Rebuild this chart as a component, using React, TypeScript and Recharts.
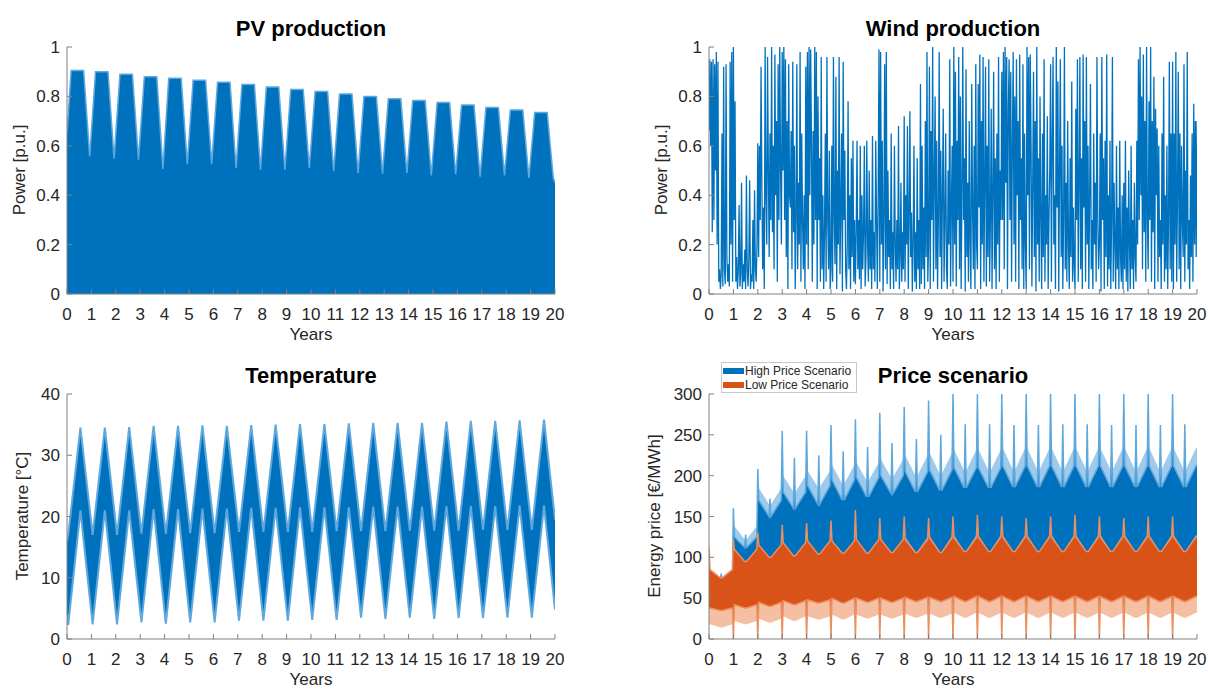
import { ComposedChart, Area, LineChart, Line, XAxis, YAxis } from "recharts";

const FONT = '"Liberation Sans", Arial, Helvetica, sans-serif';
const BLUE = "#0072BD";
const BLUE_LIGHT = "#5EA8DE";
const BLUE_FRINGE = "#9ECAEB";
const ORANGE = "#D95319";
const ORANGE_LIGHT = "#EA8F62";
const ORANGE_FRINGE = "#F5BFA3";
const AXIS = "#808080";
const TEXT = "#262626";

const yearTicks = [0, 1, 2, 3, 4, 5, 6, 7, 8, 9, 10, 11, 12, 13, 14, 15, 16, 17, 18, 19, 20];
const puTicks = [0, 0.2, 0.4, 0.6, 0.8, 1];
const tempTicks = [0, 10, 20, 30, 40];
const priceTicks = [0, 50, 100, 150, 200, 250, 300];

// PV production: envelope of the daily peaks, one plateau and one trough per year
const pvStart = 0.65;
const pvPeak = [0.905, 0.9, 0.89, 0.88, 0.873, 0.865, 0.857, 0.848, 0.838, 0.828, 0.82, 0.81, 0.8, 0.79, 0.783, 0.775, 0.765, 0.755, 0.745, 0.735];
const pvTrough = [0.557, 0.548, 0.544, 0.506, 0.526, 0.526, 0.51, 0.503, 0.503, 0.51, 0.497, 0.49, 0.487, 0.49, 0.48, 0.485, 0.475, 0.48, 0.47, 0.47];
const pvEnd = 0.45;

// Wind production, 30 readings per year
const windPower = [
  0.66, 0.95, 0.6, 0.94, 0.25, 0.95, 0.3, 0.93, 0.5, 0.98, 0.2, 0.94, 0.05, 0.1, 0.02, 0.08, 0.65, 0.03, 0.92, 0.1, 0.04, 0.93, 0.15, 0.05, 0.12, 0.03, 0.94, 0.2, 0.98, 0.05,
  1.0, 0.3, 0.78, 0.05, 0.15, 0.02, 0.1, 0.36, 0.03, 0.08, 0.45, 0.02, 0.12, 0.05, 0.18, 0.02, 0.48, 0.1, 0.03, 0.15, 0.46, 0.02, 0.08, 0.05, 0.3, 0.02, 0.42, 0.1, 0.05, 0.2,
  0.61, 0.15, 0.6, 0.3, 0.92, 0.45, 0.1, 0.35, 0.02, 1.0, 0.4, 0.2, 0.96, 0.5, 0.15, 0.65, 0.3, 1.0, 0.25, 0.6, 0.1, 0.97, 0.4, 0.7, 0.05, 0.93, 0.3, 1.0, 0.5, 0.2,
  0.98, 0.5, 1.0, 0.3, 0.95, 0.15, 0.7, 0.02, 0.93, 0.4, 0.35, 0.66, 0.1, 0.94, 0.25, 0.6, 0.02, 0.3, 0.93, 0.1, 0.45, 0.2, 0.98, 0.05, 0.65, 0.3, 0.1, 0.4, 0.02, 0.92,
  0.2, 0.98, 0.1, 1.0, 0.4, 0.99, 0.6, 0.05, 0.66, 0.2, 1.0, 0.3, 0.98, 0.02, 0.8, 0.3, 0.55, 0.05, 0.96, 0.1, 0.4, 0.02, 0.25, 0.65, 0.05, 0.96, 0.3, 0.1, 0.58, 0.02,
  0.1, 0.6, 0.05, 0.96, 0.3, 0.12, 0.88, 0.02, 0.5, 0.2, 0.96, 0.08, 0.35, 0.65, 0.01, 0.94, 0.3, 0.58, 0.1, 0.02, 0.2, 0.78, 0.1, 0.4, 0.02, 0.55, 0.15, 0.62, 0.05, 0.3,
  0.04, 0.25, 0.62, 0.1, 0.3, 0.06, 0.6, 0.02, 0.4, 0.1, 0.25, 0.6, 0.03, 0.15, 0.62, 0.2, 0.05, 0.5, 0.1, 0.3, 0.02, 0.64, 0.1, 0.25, 0.05, 0.62, 0.3, 0.02, 0.4, 0.99,
  0.05, 0.98, 0.2, 0.62, 0.01, 0.3, 0.93, 0.1, 0.98, 0.04, 0.5, 0.15, 0.3, 0.02, 0.65, 0.1, 0.25, 0.02, 0.6, 0.2, 0.05, 0.3, 0.1, 0.68, 0.02, 0.15, 0.45, 0.05, 0.25, 0.1,
  0.72, 0.05, 0.4, 0.2, 0.68, 0.02, 0.3, 0.74, 0.15, 0.33, 0.01, 0.2, 0.6, 0.05, 0.25, 0.02, 0.55, 0.1, 0.3, 0.02, 0.85, 0.04, 0.6, 0.1, 0.35, 0.02, 0.7, 0.15, 0.98, 0.05,
  0.2, 0.92, 0.02, 0.66, 0.3, 1.0, 0.05, 0.45, 0.8, 0.1, 0.62, 0.02, 0.3, 0.98, 0.15, 0.58, 0.02, 0.4, 0.75, 0.05, 0.3, 0.65, 0.1, 0.02, 0.5, 0.2, 0.95, 0.03, 0.35, 0.6,
  0.05, 1.0, 0.2, 0.9, 0.03, 0.62, 0.3, 0.96, 0.1, 0.8, 0.02, 0.4, 1.0, 0.3, 0.55, 0.01, 0.91, 0.15, 0.45, 0.05, 0.7, 0.2, 0.02, 0.85, 0.35, 0.1, 0.6, 0.02, 0.93, 0.2,
  0.1, 0.85, 0.35, 0.97, 0.02, 0.7, 0.2, 0.96, 0.05, 0.45, 0.92, 0.03, 0.6, 0.15, 0.95, 0.05, 0.3, 0.75, 0.02, 0.4, 0.9, 0.1, 0.55, 0.02, 0.65, 0.2, 0.96, 0.05, 0.5, 0.3,
  0.9, 0.3, 0.98, 0.1, 1.0, 0.45, 0.96, 0.02, 0.75, 0.95, 0.3, 0.9, 0.05, 0.6, 0.98, 0.2, 0.8, 0.05, 0.95, 0.4, 0.7, 0.02, 0.97, 0.3, 0.55, 0.1, 0.93, 0.02, 0.65, 0.2,
  0.02, 1.0, 0.4, 0.96, 0.1, 0.97, 0.6, 0.03, 0.45, 0.9, 0.15, 0.7, 0.01, 1.0, 0.2, 0.55, 0.05, 0.8, 0.3, 0.02, 0.65, 0.15, 0.95, 0.05, 0.4, 0.2, 0.72, 0.02, 0.3, 0.5,
  0.93, 0.05, 0.6, 0.96, 0.2, 0.4, 0.02, 1.0, 0.35, 0.86, 0.01, 0.5, 0.95, 0.15, 0.6, 0.02, 0.3, 1.0, 0.1, 0.45, 0.05, 0.7, 0.2, 0.02, 0.55, 0.15, 0.86, 0.05, 0.35, 0.1,
  0.02, 0.75, 0.3, 0.95, 0.05, 0.45, 0.96, 0.1, 0.55, 0.02, 0.97, 0.35, 0.7, 0.05, 0.96, 0.2, 0.6, 0.02, 0.4, 0.85, 0.1, 0.3, 0.02, 0.65, 0.2, 0.45, 0.05, 0.96, 0.3, 0.1,
  0.2, 0.65, 0.01, 0.96, 0.3, 0.55, 0.02, 0.62, 0.15, 0.97, 0.03, 0.4, 0.1, 0.62, 0.02, 0.3, 0.96, 0.05, 0.45, 0.2, 0.02, 0.6, 0.1, 0.35, 0.02, 0.62, 0.15, 0.05, 0.4, 0.02,
  0.45, 0.1, 0.62, 0.05, 0.35, 0.01, 0.5, 0.2, 0.02, 0.6, 0.1, 0.3, 0.02, 0.45, 0.15, 0.05, 0.62, 0.2, 0.95, 0.3, 1.0, 0.4, 0.8, 0.1, 0.97, 0.25, 0.7, 0.05, 1.0, 0.3,
  0.1, 0.78, 0.3, 1.0, 0.05, 0.7, 0.25, 0.88, 0.02, 0.75, 0.4, 0.67, 0.05, 0.6, 0.15, 0.3, 0.02, 0.65, 0.2, 0.88, 0.05, 0.4, 0.1, 0.6, 0.02, 0.3, 0.94, 0.1, 0.65, 0.05,
  0.94, 0.02, 0.65, 0.2, 0.98, 0.05, 0.4, 0.9, 0.1, 0.65, 0.02, 0.6, 0.3, 0.15, 0.93, 0.05, 0.5, 0.2, 0.98, 0.1, 0.3, 0.02, 0.48, 0.15, 0.65, 0.05, 0.77, 0.2, 0.7, 0.15,
  0.7,
];

// Temperature band: winter trough (start of year) and summer peak (mid-year)
const tempStart = [4, 16];
const tempTroughLow = [2.3, 2.4, 2.4, 2.7, 2.5, 2.7, 2.7, 3.0, 3.0, 3.0, 3.1, 3.1, 3.5, 3.3, 3.5, 3.3, 3.4, 3.4, 3.5, 3.5];
const tempTroughHigh = [17, 17, 17, 17.2, 17.2, 17.3, 17.3, 17.5, 17.5, 17.5, 17.5, 17.6, 17.6, 17.6, 17.7, 17.7, 17.7, 17.8, 17.8, 17.8];
const tempPeakLow = [21, 21, 21, 21.2, 21.2, 21.3, 21.3, 21.4, 21.4, 21.5, 21.5, 21.5, 21.6, 21.6, 21.6, 21.7, 21.7, 21.7, 21.8, 21.8];
const tempPeakHigh = [34.5, 34.5, 34.6, 34.8, 34.8, 34.9, 34.8, 34.9, 35.0, 35.1, 35.1, 35.2, 35.3, 35.3, 35.3, 35.5, 35.6, 35.6, 35.7, 35.8];
const tempEnd = [4.8, 19.5];

// Price scenarios, per year (edge = around new year, mid = mid-year)
const highSpike = [100, 160, 208, 255, 255, 262, 269, 277, 284, 292, 300, 300, 300, 300, 300, 300, 300, 300, 300, 300];
const highMidSpike = [80, 128, 172, 222, 225, 230, 235, 240, 245, 250, 263, 263, 262, 262, 263, 263, 262, 262, 262, 263];
const highTopEdge = [75, 125, 170, 180, 188, 195, 198, 200, 205, 207, 210, 210, 212, 212, 212, 212, 212, 212, 212, 212];
const highTopMid = [72, 112, 150, 160, 165, 170, 174, 178, 180, 182, 185, 185, 186, 186, 186, 186, 186, 186, 186, 186];
const highBottomEdge = [40, 85, 100, 110, 115, 118, 120, 122, 124, 125, 126, 126, 126, 126, 126, 126, 126, 126, 126, 126];
const highBottomMid = [40, 75, 90, 98, 100, 102, 103, 104, 105, 105, 106, 106, 106, 106, 106, 106, 106, 106, 106, 106];
const highCeilEdge = [78, 138, 185, 200, 206, 213, 216, 220, 225, 228, 232, 232, 234, 234, 234, 234, 234, 234, 234, 234];
const highCeilMid = [74, 122, 165, 180, 186, 190, 194, 198, 200, 202, 206, 206, 207, 207, 207, 207, 207, 207, 207, 207];

const lowSpikeDown = [38, 0, 0, 0, 0, 0, 0, 0, 0, 0, 0, 0, 0, 0, 0, 0, 0, 0, 0, 0];
const lowSpikeUp = [113, 122, 130, 140, 142, 145, 158, 148, 150, 148, 150, 152, 150, 148, 150, 152, 150, 148, 150, 150];
const lowTopEdge = [85, 110, 115, 118, 120, 120, 122, 122, 122, 124, 124, 125, 125, 125, 125, 125, 125, 125, 125, 125];
const lowTopMid = [75, 95, 100, 102, 104, 105, 105, 106, 106, 106, 107, 107, 107, 107, 107, 107, 107, 107, 107, 107];
const lowBottomEdge = [38, 42, 45, 47, 48, 50, 50, 50, 51, 51, 52, 52, 52, 52, 52, 52, 52, 52, 52, 52];
const lowBottomMid = [35, 38, 40, 42, 44, 44, 45, 45, 46, 46, 46, 46, 46, 46, 46, 46, 46, 46, 46, 46];
const lowFloorEdge = [18, 22, 25, 28, 28, 30, 30, 30, 31, 31, 32, 32, 32, 32, 32, 32, 32, 32, 32, 32];
const lowFloorMid = [14, 18, 20, 22, 24, 24, 25, 25, 26, 26, 26, 26, 26, 26, 26, 26, 26, 26, 26, 26];

const pvData: { x: number; p: number }[] = [{ x: 0, p: pvStart }];
pvPeak.forEach((peak, i) => {
  pvData.push({ x: i + 0.17, p: peak });
  pvData.push({ x: i + 0.68, p: peak });
  pvData.push({ x: i + 0.93, p: pvTrough[i] });
});
pvData.push({ x: 20, p: pvEnd });

const windData = windPower.map((p, i) => ({ x: i / 30, p }));

const tempData: { x: number; t: number[] }[] = [{ x: 0, t: tempStart }];
tempPeakHigh.forEach((_, i) => {
  tempData.push({ x: i + 0.05, t: [tempTroughLow[i], tempTroughHigh[i]] });
  tempData.push({ x: i + 0.55, t: [tempPeakLow[i], tempPeakHigh[i]] });
});
tempData.push({ x: 20, t: tempEnd });

type PricePoint = { x: number; hi: number[]; hiF: number[]; lo: number[]; loF: number[] };
const edgePoint = (i: number, x: number, hiTop: number, loBottom: number, loTop: number): PricePoint => ({
  x,
  hi: [highBottomEdge[i], hiTop],
  hiF: [highTopEdge[i], highCeilEdge[i]],
  lo: [loBottom, loTop],
  loF: [lowFloorEdge[i], lowBottomEdge[i]],
});
const midPoint = (i: number, x: number, hiTop: number): PricePoint => ({
  x,
  hi: [highBottomMid[i], hiTop],
  hiF: [highTopMid[i], highCeilMid[i]],
  lo: [lowBottomMid[i], lowTopMid[i]],
  loF: [lowFloorMid[i], lowBottomMid[i]],
});
const priceData: PricePoint[] = [];
highSpike.forEach((_, i) => {
  priceData.push(edgePoint(i, i, highSpike[i], lowSpikeDown[i], lowSpikeUp[i]));
  priceData.push(edgePoint(i, i + 0.04, highTopEdge[i], lowBottomEdge[i], lowTopEdge[i]));
  priceData.push(midPoint(i, i + 0.46, highTopMid[i]));
  priceData.push(midPoint(i, i + 0.5, highMidSpike[i]));
  priceData.push(midPoint(i, i + 0.54, highTopMid[i]));
  priceData.push(edgePoint(i, i + 0.96, highTopEdge[i], lowBottomEdge[i], lowTopEdge[i]));
});
priceData.push(edgePoint(19, 20, highTopEdge[19], lowBottomEdge[19], lowTopEdge[19]));

const tickStyle = { fill: TEXT, fontSize: 17, fontFamily: FONT };

const xAxis = (
  <XAxis
    dataKey="x"
    type="number"
    domain={[0, 20]}
    ticks={yearTicks}
    interval={0}
    allowDataOverflow
    height={30}
    tickSize={-5}
    tickMargin={19}
    axisLine={{ stroke: AXIS }}
    tickLine={{ stroke: AXIS }}
    tick={tickStyle}
  />
);

const yAxis = (domain: number[], ticks: number[]) => (
  <YAxis
    type="number"
    domain={domain}
    ticks={ticks}
    interval={0}
    allowDataOverflow
    width={50}
    tickSize={-5}
    tickMargin={12}
    axisLine={{ stroke: AXIS }}
    tickLine={{ stroke: AXIS }}
    tick={tickStyle}
  />
);

const Title = ({ x, y, text }: { x: number; y: number; text: string }) => (
  <div
    style={{
      position: "absolute", left: x, top: y, transform: "translate(-50%, -50%)",
      fontSize: 22, fontWeight: "bold", color: "#000", whiteSpace: "nowrap",
    }}
  >
    {text}
  </div>
);

const Label = ({ x, y, text, rotate }: { x: number; y: number; text: string; rotate?: boolean }) => (
  <div
    style={{
      position: "absolute", left: x, top: y,
      transform: `translate(-50%, -50%)${rotate ? " rotate(-90deg)" : ""}`,
      fontSize: 17, color: TEXT, whiteSpace: "nowrap",
    }}
  >
    {text}
  </div>
);

const LegendRow = ({ top, color, text }: { top: number; color: string; text: string }) => (
  <div style={{ position: "absolute", left: 1, top, display: "flex", alignItems: "center", height: 14, whiteSpace: "nowrap" }}>
    <div style={{ width: 21, height: 6, background: color, flexShrink: 0 }} />
    <span style={{ marginLeft: 1, fontSize: 12, color: TEXT, lineHeight: "14px" }}>{text}</span>
  </div>
);

const App = () => {
  return (
    <div style={{ position: "absolute", left: 0, top: 0, width: 1208, height: 689, background: "#fff", fontFamily: FONT }}>
      <div style={{ position: "absolute", left: 0, top: 0 }}>
        <ComposedChart width={600} height={340} data={pvData} margin={{ top: 47, right: 45, bottom: 16, left: 17 }}>
          {xAxis}
          {yAxis([0, 1], puTicks)}
          <Area dataKey="p" type="linear" fill={BLUE} fillOpacity={1} stroke={BLUE_LIGHT} strokeWidth={1.5} isAnimationActive={false} />
        </ComposedChart>
      </div>

      <div style={{ position: "absolute", left: 600, top: 0 }}>
        <LineChart width={608} height={340} data={windData} margin={{ top: 47, right: 11, bottom: 16, left: 59 }}>
          {xAxis}
          {yAxis([0, 1], puTicks)}
          <Line dataKey="p" type="linear" stroke={BLUE} strokeWidth={1.3} dot={false} isAnimationActive={false} />
        </LineChart>
      </div>

      <div style={{ position: "absolute", left: 0, top: 345 }}>
        <ComposedChart width={600} height={344} data={tempData} margin={{ top: 49, right: 45, bottom: 20, left: 17 }}>
          {xAxis}
          {yAxis([0, 40], tempTicks)}
          <Area dataKey="t" type="linear" fill={BLUE} fillOpacity={1} stroke={BLUE_LIGHT} strokeWidth={2} isAnimationActive={false} />
        </ComposedChart>
      </div>

      <div style={{ position: "absolute", left: 600, top: 345 }}>
        <ComposedChart width={608} height={344} data={priceData} margin={{ top: 49, right: 11, bottom: 20, left: 59 }}>
          {xAxis}
          {yAxis([0, 300], priceTicks)}
          <Area dataKey="hiF" type="linear" fill={BLUE_FRINGE} fillOpacity={1} stroke="none" isAnimationActive={false} />
          <Area dataKey="hi" type="linear" fill={BLUE} fillOpacity={1} stroke={BLUE_LIGHT} strokeWidth={1.5} isAnimationActive={false} />
          <Area dataKey="loF" type="linear" fill={ORANGE_FRINGE} fillOpacity={1} stroke="none" isAnimationActive={false} />
          <Area dataKey="lo" type="linear" fill={ORANGE} fillOpacity={1} stroke={ORANGE_LIGHT} strokeWidth={1.5} isAnimationActive={false} />
        </ComposedChart>
      </div>

      <Title x={311} y={29} text="PV production" />
      <Title x={953} y={29} text="Wind production" />
      <Title x={311} y={376} text="Temperature" />
      <Title x={953} y={376} text="Price scenario" />

      <Label x={311} y={335} text="Years" />
      <Label x={953} y={335} text="Years" />
      <Label x={311} y={680} text="Years" />
      <Label x={953} y={680} text="Years" />

      <Label x={20} y={170} text="Power [p.u.]" rotate />
      <Label x={662} y={170} text="Power [p.u.]" rotate />
      <Label x={23} y={516} text="Temperature [°C]" rotate />
      <Label x={655} y={516} text="Energy price [€/MWh]" rotate />

      <div
        style={{
          position: "absolute", left: 721, top: 362, width: 136, height: 31,
          border: "1px solid #c8c8c8", background: "#fff", boxSizing: "border-box",
        }}
      >
        <LegendRow top={1} color={BLUE} text="High Price Scenario" />
        <LegendRow top={15} color={ORANGE} text="Low Price Scenario" />
      </div>
    </div>
  );
};

export default App;
